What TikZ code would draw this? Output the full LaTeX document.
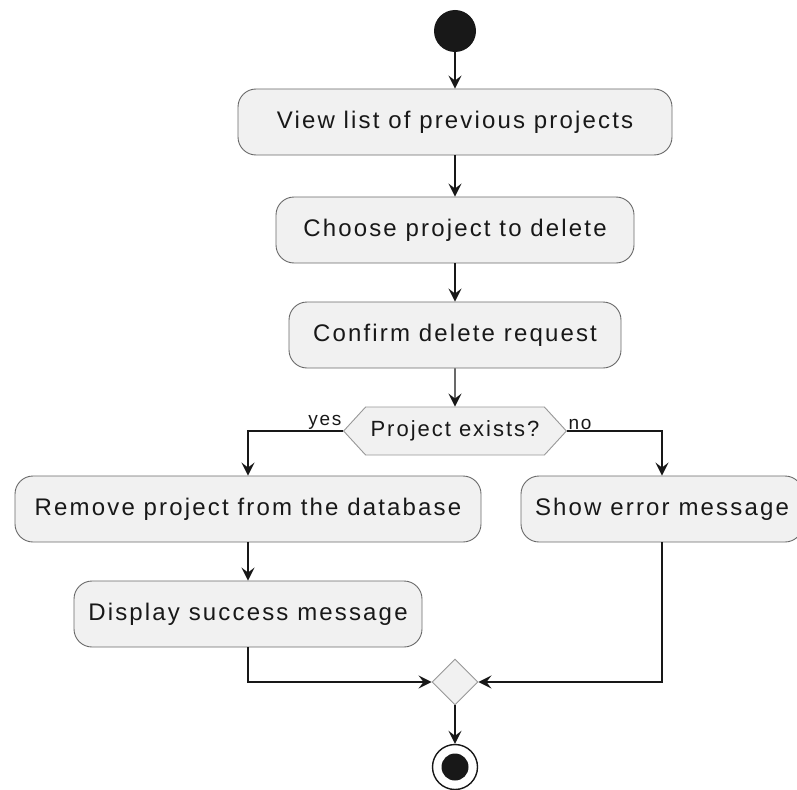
\documentclass[tikz,border=0pt]{standalone}
\usepackage{fontspec}
\newfontfamily\umlfont[LetterSpace=9]{Liberation Sans}
\usetikzlibrary{positioning,arrows.meta,shapes.geometric,shapes.symbols}
\definecolor{umlfill}{HTML}{F1F1F1}
\definecolor{umlline}{HTML}{181818}

\begin{document}
\begin{tikzpicture}[x=1pt,y=-1pt,>={Stealth[length=13pt,width=13pt,inset=5pt]},
  act/.style={draw=umlline!65,fill=umlfill,line width=0.9pt,rounded corners=18pt,minimum height=66pt,inner xsep=8pt,font=\umlfont\fontsize{24}{28}\selectfont,text=umlline},
  check/.style={shape=signal,signal to=east and west,signal pointer angle=95,draw=umlline!45,fill=umlfill,line width=0.9pt,minimum height=48pt,inner xsep=5pt,font=\umlfont\fontsize{22}{26}\selectfont,text=umlline},
  merge/.style={diamond,draw=umlline!45,fill=umlfill,line width=0.9pt,minimum size=46pt,inner sep=0pt},
  flow/.style={->,draw=umlline,line width=1.4pt},
  guard/.style={font=\umlfont\fontsize{19}{21}\selectfont,text=umlline,inner sep=1pt}]
\useasboundingbox (0,0) rectangle (797,789);
\node[circle,fill=umlline,minimum size=42pt,inner sep=0pt] (start) at (455,31) {};
\node[act,minimum width=434pt] (view) at (455,122) {View list of previous projects};
\node[act,minimum width=358pt] (choose) at (455,230) {Choose project to delete};
\node[act,minimum width=332pt] (confirm) at (455,335) {Confirm delete request};
\node[check] (exists) at (455,431) {Project exists?};
\node[act,minimum width=466pt] (remove) at (248,509) {Remove project from the database};
\node[act,minimum width=282pt] (error) at (662,509) {Show error message};
\node[act,minimum width=348pt] (success) at (248,614) {Display success message};
\node[merge] (join) at (455,682) {};
\node[circle,draw=umlline,fill=white,line width=1.4pt,minimum size=45pt,inner sep=0pt] (stop) at (455,767) {};
\node[circle,fill=umlline,minimum size=27pt,inner sep=0pt] (stopdot) at (stop) {};
\draw[flow] (start) -- (view);
\draw[flow] (view) -- (choose);
\draw[flow] (choose) -- (confirm);
\draw[flow] (confirm) -- (exists);
\draw[flow] (exists.west) node[guard,anchor=south east] {yes} -| (remove);
\draw[flow] (exists.east) node[guard,anchor=south west] {no} -| (error);
\draw[flow] (remove) -- (success);
\draw[flow] (success) |- (join);
\draw[flow] (error) |- (join);
\draw[flow] (join) -- (stop);
\end{tikzpicture}
\end{document}
